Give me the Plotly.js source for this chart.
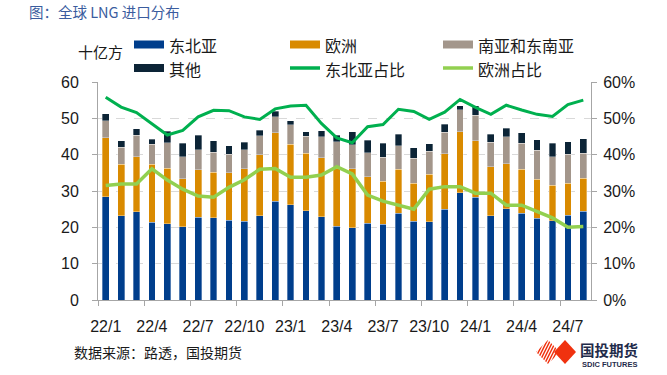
<!DOCTYPE html>
<html>
<head>
<meta charset="utf-8">
<script src="https://cdn.plot.ly/plotly-3.0.1.min.js"></script>
<style>
html,body{margin:0;padding:0;background:#fff;}
#chart{width:667px;height:375px;}
</style>
</head>
<body>
<div id="chart"></div>
<script>
// ---- data ----
const months = ["22/1","22/2","22/3","22/4","22/5","22/6","22/7","22/8","22/9","22/10","22/11","22/12",
                "23/1","23/2","23/3","23/4","23/5","23/6","23/7","23/8","23/9","23/10","23/11","23/12",
                "24/1","24/2","24/3","24/4","24/5","24/6","24/7","24/8"];
const neAsia = [28.4,23.2,24.3,21.4,21.0,20.2,22.8,22.7,22.0,21.7,23.2,27.2,
                26.2,24.6,22.9,20.3,19.9,21.1,20.8,23.9,21.7,21.5,25.0,29.5,
                28.3,23.2,25.1,23.9,22.5,21.8,23.3,24.4];
const europe = [16.3,14.1,15.1,16.0,15.3,13.2,13.0,12.4,13.0,14.4,16.8,18.9,
                16.7,15.8,16.2,15.9,16.2,12.8,11.9,12.1,10.5,13.1,15.2,16.8,
                15.6,13.5,12.4,12.1,10.7,9.8,8.8,9.1];
const sAsia  = [4.7,4.7,5.9,5.5,7.0,6.0,5.6,5.5,5.1,5.3,5.2,4.4,
                5.3,4.7,5.9,7.4,6.6,6.6,6.6,6.5,6.8,6.3,6.0,6.0,
                7.0,6.7,7.4,7.1,8.0,7.8,8.0,6.9];
const other  = [1.9,1.9,1.9,1.4,3.1,3.8,3.9,3.2,2.3,2.0,1.5,1.4,
                1.1,1.2,1.6,1.8,3.6,3.5,3.9,3.1,2.9,2.1,2.2,1.2,
                2.5,2.2,2.4,2.9,2.9,3.7,3.4,4.0];
const neAsiaShare = [55.8,53.1,51.6,48.6,45.4,46.7,50.4,52.2,52.1,50.4,49.7,52.6,
                     53.4,53.6,48.6,44.6,43.3,47.7,48.3,52.5,51.9,49.7,51.7,55.2,
                     53.0,51.1,53.6,52.3,51.1,50.5,53.8,55.0];
const europeShare = [31.5,31.9,31.9,36.1,33.0,30.5,28.6,28.3,31.0,33.1,36.0,36.2,
                     33.8,33.8,34.4,36.7,34.7,28.9,27.2,26.1,25.0,30.5,31.2,31.2,
                     29.4,29.4,26.1,26.1,24.3,22.6,20.0,20.2];
const seriesNames = ["东北亚","欧洲","南亚和东南亚","其他","东北亚占比","欧洲占比"];
const seriesColors = ["#003E8C","#D98A00","#A3968B","#0C2436","#00B04F","#92D050"];
const tickEvery = 3;

// ---- helpers ----
const L = 98, R = 591, T = 82, B = 300;
const px = x => (x - L) / (R - L);
const py = y => (B - y) / (B - T);
const xIdx = months.map((m, i) => i);
const tickVals = xIdx.filter(i => i % tickEvery === 0);
const tickText = tickVals.map(i => months[i]);

const barSeries = [neAsia, europe, sAsia, other];
const traces = barSeries.map((vals, k) => ({
  type: "bar", x: xIdx, y: vals, name: seriesNames[k],
  marker: {color: seriesColors[k], line: {color: "rgba(255,255,255,0.55)", width: 0.6}},
  showlegend: false, hoverinfo: "skip"
}));
[neAsiaShare, europeShare].forEach((vals, k) => {
  traces.push({
    type: "scatter", mode: "lines", x: xIdx, y: vals, yaxis: "y2",
    name: seriesNames[4 + k],
    line: {color: seriesColors[4 + k], width: k === 0 ? 3 : 3.5},
    showlegend: false, hoverinfo: "skip"
  });
});

const tickFont = {family: "Liberation Sans, Arial, sans-serif", size: 16, color: "#1a1a1a"};
const cjk = "Noto Sans CJK SC, sans-serif";

// manual legend
const shapes = [];
const annotations = [];
const legendPos = [[134,44.5],[290,44.5],[443,44.5],[134,68],[290,68],[443,68]];
seriesNames.forEach((nm, k) => {
  const [sx, sy] = legendPos[k];
  if (k < 4) {
    shapes.push({type:"rect", xref:"paper", yref:"paper", x0:px(sx), x1:px(sx+30), y0:py(sy+4), y1:py(sy-4),
      fillcolor: seriesColors[k], line:{width:0}});
  } else {
    shapes.push({type:"line", xref:"paper", yref:"paper", x0:px(sx), x1:px(sx+30), y0:py(sy), y1:py(sy),
      line:{color: seriesColors[k], width: 3.5}});
  }
  annotations.push({xref:"paper", yref:"paper", x:px(sx+33), y:py(sy+1), xanchor:"left", yanchor:"middle",
    text: nm, showarrow:false, font:{family: cjk, size:16, color:"#1a1a1a"}});
});

// title, unit, source
annotations.push({xref:"paper", yref:"paper", x:px(27), y:py(11), xanchor:"left", yanchor:"middle",
  text:"图：全球 LNG 进口分布", showarrow:false, font:{family: cjk, size:14.5, color:"#3A5C9E"}});
annotations.push({xref:"paper", yref:"paper", x:px(100), y:py(51), xanchor:"center", yanchor:"middle",
  text:"十亿方", showarrow:false, font:{family: cjk, size:15, color:"#1a1a1a"}});
annotations.push({xref:"paper", yref:"paper", x:px(72), y:py(352), xanchor:"left", yanchor:"middle",
  text:"数据来源：路透，国投期货", showarrow:false, font:{family: cjk, size:14, color:"#1a1a1a"}});

// logo
const red = "#F0320F";
const rh = (cx, cy, w, h) => `M ${px(cx-w)} ${py(cy)} L ${px(cx)} ${py(cy-h)} L ${px(cx+w)} ${py(cy)} L ${px(cx)} ${py(cy+h)} Z`;
shapes.push({type:"path", xref:"paper", yref:"paper", path: rh(548,352,12,12), fillcolor: red, line:{width:0}});
for (let s = 530; s <= 562; s += 3) {
  shapes.push({type:"line", xref:"paper", yref:"paper", x0:px(s), y0:py(366), x1:px(s+14), y1:py(338),
    line:{color:"#ffffff", width:1.2}});
}
shapes.push({type:"path", xref:"paper", yref:"paper", path: rh(565,352,11,12), fillcolor: red, line:{width:0}});
annotations.push({xref:"paper", yref:"paper", x:px(608.5), y:py(349.5), xanchor:"center", yanchor:"middle",
  text:"<b>国投期货</b>", showarrow:false, font:{family: cjk, size:14.5, color:"#1F2B4A"}});
annotations.push({xref:"paper", yref:"paper", x:px(609), y:py(364.5), xanchor:"center", yanchor:"middle",
  text:"<b>SDIC FUTURES</b>", showarrow:false, font:{family:"Liberation Sans, Arial, sans-serif", size:7.5, color:"#1F2B4A"}});

const layout = {
  width: 667, height: 375,
  margin: {l: L, r: 667 - R, t: T, b: 375 - B, pad: 0},
  paper_bgcolor: "#fff", plot_bgcolor: "#fff",
  barmode: "stack", bargap: 0.56,
  showlegend: false,
  xaxis: {
    range: [-0.5, months.length - 0.5], tickmode: "array", tickvals: tickVals, ticktext: tickText,
    ticks: "", showgrid: false, zeroline: false, showline: true, linecolor: "#A6A6A6", linewidth: 1,
    tickfont: tickFont, ticklabelstandoff: 12,
    minor: {tickmode: "linear", tick0: -0.5, dtick: tickEvery, ticks: "outside", ticklen: 5, tickcolor: "#A6A6A6", showgrid: false}
  },
  yaxis: {
    range: [0, 60], dtick: 10, tick0: 0, showgrid: true, gridcolor: "#D9D9D9", griddash: "dash", gridwidth: 1,
    zeroline: false, showline: true, linecolor: "#A6A6A6", ticks: "outside", ticklen: 5, tickcolor: "#A6A6A6",
    tickfont: tickFont, ticklabelstandoff: 10
  },
  yaxis2: {
    range: [0, 60], dtick: 10, tick0: 0, ticksuffix: "%", overlaying: "y", side: "right",
    showgrid: false, zeroline: false, showline: true, linecolor: "#A6A6A6", ticks: "outside", ticklen: 5,
    tickcolor: "#A6A6A6", tickfont: tickFont, ticklabelstandoff: 3
  },
  shapes: shapes,
  annotations: annotations
};

Plotly.newPlot("chart", traces, layout, {displayModeBar: false, staticPlot: true});
</script>
</body>
</html>
